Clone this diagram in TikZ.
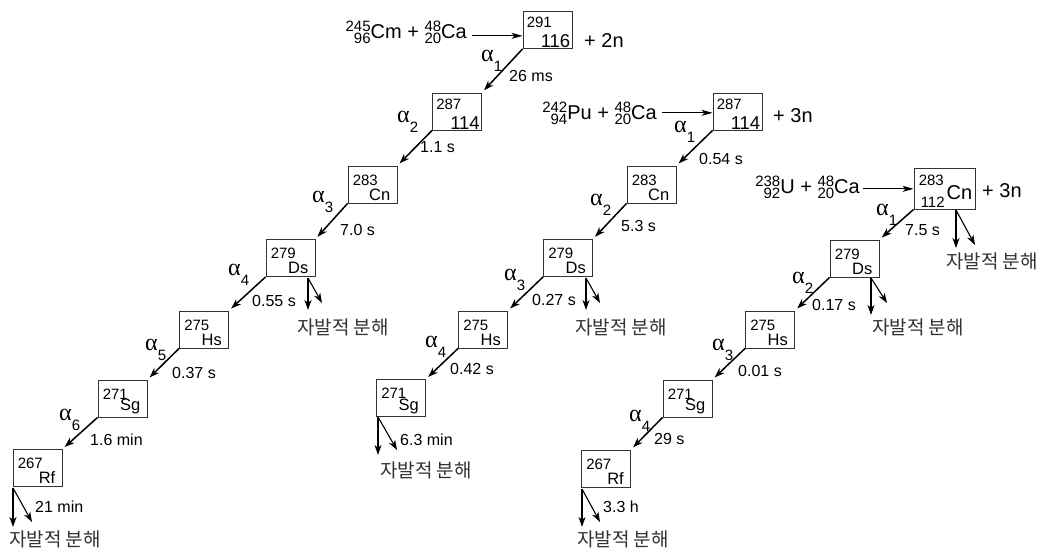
\documentclass[tikz,border=0pt]{standalone}
\usepackage{fontspec}
\setmainfont{Liberation Sans}
\newfontfamily\kofont{Noto Sans CJK KR}
\newfontfamily\grfont{Liberation Serif}
\usetikzlibrary{arrows.meta}

% nuclide with mass number over atomic number, written in front of the symbol
\newcommand{\isot}[3]{\mbox{{\fontsize{15}{15}\selectfont
  \setbox0=\hbox{#1}\setbox2=\hbox{#2}%
  \ifdim\wd0>\wd2 \dimen0=\wd0 \else \dimen0=\wd2 \fi
  \makebox[\dimen0][r]{\raisebox{7pt}{#1}}\llap{\raisebox{-5pt}{#2}}}#3}}
\newcommand{\alphalab}[1]{{\grfont\fontsize{24}{24}\selectfont α}\raisebox{-10pt}{\fontsize{15}{15}\selectfont #1}}

\tikzset{
  nucbox/.style={draw=black!80, line width=0.9pt, minimum width=49pt, minimum height=37pt, inner sep=0pt},
  massno/.style={font=\fontsize{15}{15}\selectfont, inner sep=0pt},
  elem/.style={font=\fontsize{16.5}{16.5}\selectfont, inner sep=0pt},
  bigno/.style={font=\fontsize{18.5}{18.5}\selectfont, inner sep=0pt},
  nuc/.style 2 args={nucbox,
    label={[massno, anchor=north west, xshift=5pt, yshift=-9pt]north west:#1},
    label={[elem, anchor=south east, xshift=-7pt, yshift=3pt]south east:#2}},
  bignuc/.style 2 args={nucbox,
    label={[massno, anchor=north west, xshift=4pt, yshift=-6pt]north west:#1},
    label={[bigno, anchor=south east, xshift=-2pt, yshift=1pt]south east:#2}},
  txt/.style={font=\fontsize{16}{16}\selectfont, inner sep=0pt},
  bigtxt/.style={font=\fontsize{20}{20}\selectfont, inner sep=0pt},
  fistxt/.style={font=\kofont\fontsize{19}{19}\selectfont, text=black!80, inner sep=0pt},
  decay/.style={-{Stealth[length=10pt, width=7pt, inset=3pt]}, line width=1.5pt, shorten >=3pt},
  fisv/.style={-{Stealth[length=10pt, width=7pt, inset=3pt]}, line width=1.6pt},
  fisd/.style={-{Stealth[length=10pt, width=7pt, inset=3pt]}, line width=1.1pt},
  beam/.style={-{Stealth[length=11pt, width=6pt, inset=3pt]}, line width=0.9pt},
}

\begin{document}
\begin{tikzpicture}[x=1pt, y=-1pt]
  \useasboundingbox (0,0) rectangle (1041,548);

  % the three chains
  \node[bignuc={291}{116}] (A1) at (547.5,30) {};
  \node[bignuc={287}{114}] (A2) at (457,111.5) {};
  \foreach \n/\x/\y/\m/\s in {A3/372.5/184.5/283/Cn, A4/290.5/258/279/Ds,
      A5/204/329.5/275/Hs, A6/122.5/398.5/271/Sg, A7/37.5/468/267/Rf}
    \node[nuc={\m}{\s}] (\n) at (\x,\y) {};
  \node[bignuc={287}{114}] (B1) at (737.5,111.5) {};
  \foreach \n/\x/\y/\m/\s in {B2/651.5/184.5/283/Cn, B3/568/258/279/Ds,
      B4/483/329.5/275/Hs, B5/401/398/271/Sg}
    \node[nuc={\m}{\s}] (\n) at (\x,\y) {};
  \node[nucbox, minimum width=61pt, minimum height=41pt,
    label={[massno, anchor=north west, xshift=5pt, yshift=-7pt]north west:283},
    label={[massno, anchor=south west, xshift=7pt, yshift=2pt]south west:112},
    label={[font=\fontsize{20}{20}\selectfont, inner sep=0pt, anchor=south east, xshift=-3pt, yshift=10pt]south east:Cn}] (C1) at (944.5,188.5) {};
  \foreach \n/\x/\y/\m/\s in {C2/854.5/258.5/279/Ds, C3/770/329.5/275/Hs,
      C4/687.5/398.5/271/Sg, C5/606/468.5/267/Rf}
    \node[nuc={\m}{\s}] (\n) at (\x,\y) {};

  % reactions
  \node[bigtxt, anchor=base east] (r1) at (467,39) {\isot{245}{96}{Cm} + \isot{48}{20}{Ca}};
  \node[bigtxt, anchor=base east] (r2) at (657,120) {\isot{242}{94}{Pu} + \isot{48}{20}{Ca}};
  \node[bigtxt, anchor=base east] (r3) at (860,194) {\isot{238}{92}{U} + \isot{48}{20}{Ca}};
  \draw[beam] ([xshift=5pt, yshift=-3pt]r1.east) -- ([yshift=-3pt]r1.east -| A1.west);
  \draw[beam] ([xshift=5pt, yshift=1pt]r2.east) -- ([yshift=1pt]r2.east -| B1.west);
  \draw[beam] ([xshift=3pt, yshift=-1pt]r3.east) -- ([yshift=-1pt]r3.east -| C1.west);
  \node[bigtxt, anchor=base west] (n1) at (584,48) {+ 2n};
  \node[bigtxt, anchor=base west] (n2) at (773,123) {+ 3n};
  \node[bigtxt, anchor=base west] (n3) at (982,198) {+ 3n};

  % alpha decays
  \foreach \a/\b in {A1/A2, A2/A3, A3/A4, A4/A5, A5/A6, A6/A7,
      B1/B2, B2/B3, B3/B4, B4/B5, C1/C2, C2/C3, C3/C4, C4/C5}
    \draw[decay] (\a.south west) -- (\b.north east);
  \foreach \n/\ax/\ay/\k/\t/\tx/\ty in {
      A1/481/62/1/26 ms/509/76, A2/397/123/2/1.1 s/420/147,
      A3/312/203/3/7.0 s/340/230, A4/228/275/4/0.55 s/252/301,
      A5/145/350/5/0.37 s/172/373, A6/59/420/6/1.6 min/90/440,
      B1/674/133/1/0.54 s/699/159, B2/590/205/2/5.3 s/621/226,
      B3/504/280/3/0.27 s/532/300, B4/425/347/4/0.42 s/450/369,
      C1/876/215/1/7.5 s/905/230, C2/792/283/2/0.17 s/812/305,
      C3/712/350/3/0.01 s/738/371, C4/629/421/4/29 s/654/439}
  {
    \node[anchor=base west, inner sep=0pt] (al\n) at (\ax,\ay) {\alphalab{\k}};
    \node[txt, anchor=west] (t\n) at (\tx,\ty) {\t};
  }

  % spontaneous fission
  \foreach \n/\sx/\sy/\v/\dx/\dy/\tx/\ty in {
      A4/308/278/32/14/25/343/327, A7/13/488/39/19/34/55/539,
      B3/586/278/32/14/25/621/327, B5/378/417/38/19/33/426/470,
      C1/956/210/38/19/35/992/261, C2/871/278/37/16/25/918/327,
      C5/582/489/38/18/33/623/539}
  {
    \coordinate (f\n) at (\sx,\sy);
    \draw[fisv] (f\n) -- ++(0,\v);
    \draw[fisd] (f\n) -- ++(\dx,\dy);
    \node[fistxt] (sf\n) at (\tx,\ty) {자발적 분해};
  }
  \node[txt, anchor=west] (tA7) at (35,507) {21 min};
  \node[txt, anchor=west] (tB5) at (400,440) {6.3 min};
  \node[txt, anchor=west] (tC5) at (603,507) {3.3 h};
\end{tikzpicture}
\end{document}
